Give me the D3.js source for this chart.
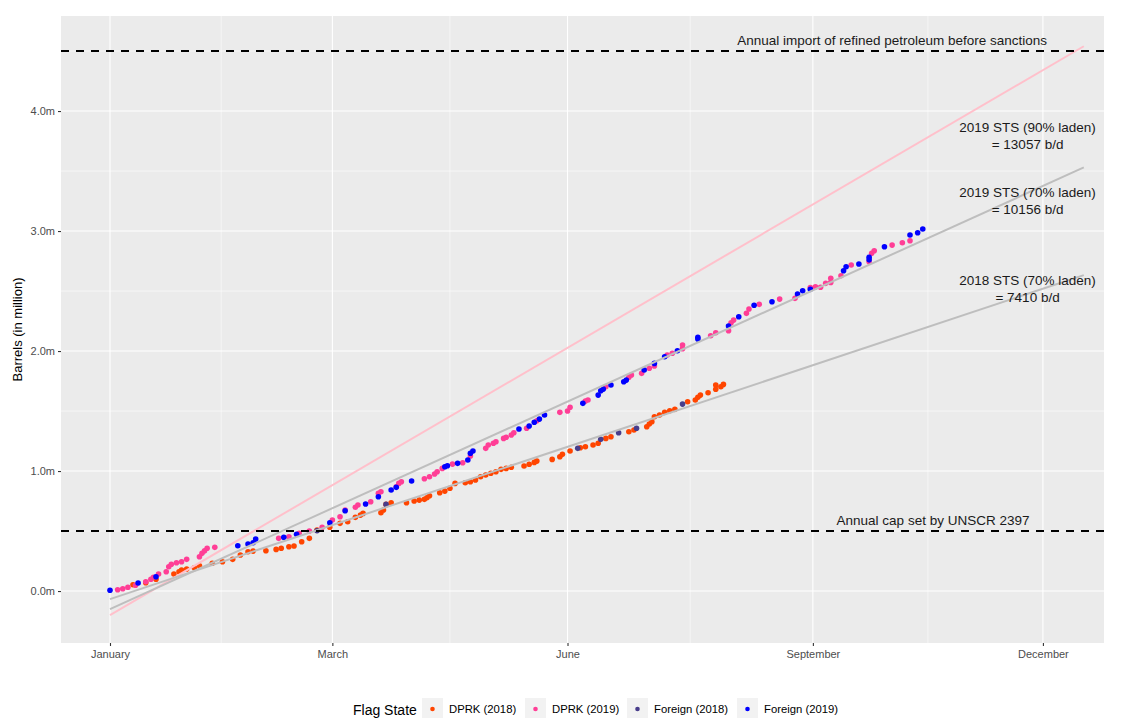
<!DOCTYPE html>
<html>
<head>
<meta charset="utf-8">
<script src="https://cdn.jsdelivr.net/npm/d3@7"></script>
<style>
  body { margin: 0; background: #fff; }
  svg { display: block; font-family: "Liberation Sans", Arial, sans-serif; }
</style>
</head>
<body>
<div id="chart"></div>
<script>
// cumulative barrels (million) by day of year
const dprk2018 = [
  [9,0.053],[14,0.069],[18,0.098],[25,0.142],[27,0.161],[28,0.175],[30,0.183],[33,0.194],[35,0.211],
  [40,0.231],[44,0.244],[48,0.264],[51,0.300],[54,0.328],[56,0.333],[61,0.336],[65,0.347],[67,0.356],
  [70,0.369],[72,0.375],[75,0.411],[78,0.439],[81,0.508],[86,0.531],[90,0.564],[93,0.578],[96,0.614],
  [98,0.633],[99,0.647],[106,0.653],[107,0.675],[108,0.722],[110,0.736],[116,0.736],[119,0.750],
  [121,0.758],[123,0.764],[124,0.778],[125,0.794],[129,0.819],[131,0.833],[133,0.856],[135,0.897],
  [139,0.903],[141,0.911],[143,0.925],[145,0.953],[147,0.967],[149,0.981],[151,0.994],[153,1.014],
  [155,1.022],[157,1.031],[162,1.042],[164,1.056],[166,1.072],[167,1.083],[173,1.097],[176,1.119],
  [177,1.139],[180,1.167],[184,1.194],[186,1.203],[189,1.217],[191,1.231],[194,1.272],[196,1.286],
  [203,1.328],[205,1.342],[210,1.369],[211,1.392],[212,1.411],[213,1.453],[215,1.467],[217,1.489],
  [219,1.503],[221,1.514],[226,1.578],[229,1.592],[230,1.614],[231,1.633],[234,1.653],[237,1.681],
  [237,1.717],[239,1.703],[240,1.722]
];
const dprk2019 = [
  [3,0.011],[5,0.019],[7,0.031],[10,0.048],[14,0.078],[16,0.098],[17,0.114],[19,0.142],[22,0.161],
  [23,0.203],[24,0.223],[26,0.236],[28,0.244],[30,0.264],[35,0.286],[36,0.314],[37,0.336],[38,0.356],
  [41,0.364],[66,0.439],[70,0.453],[74,0.481],[78,0.500],[83,0.531],[87,0.592],[90,0.619],[92,0.675],
  [96,0.698],[97,0.717],[102,0.744],[105,0.814],[106,0.828],[112,0.869],[113,0.897],[114,0.911],
  [123,0.936],[125,0.953],[127,0.975],[128,0.994],[130,1.022],[134,1.058],[138,1.069],[141,1.125],
  [147,1.189],[148,1.217],[150,1.231],[151,1.244],[154,1.272],[155,1.281],[157,1.300],[158,1.319],
  [163,1.356],[167,1.419],[176,1.489],[179,1.500],[180,1.531],[186,1.583],[187,1.592],[194,1.703],
  [203,1.781],[204,1.800],[208,1.814],[211,1.856],[213,1.875],[218,1.967],[220,1.981],[224,2.020],
  [224,2.050],[235,2.128],[237,2.153],[242,2.169],[243,2.236],[244,2.258],[249,2.314],[250,2.350],
  [254,2.389],[262,2.433],[268,2.439],[274,2.530],[276,2.536],[278,2.531],[280,2.564],[282,2.572],
  [282,2.606],[286,2.628],[290,2.717],[297,2.744],[298,2.814],[299,2.836],[306,2.883],[310,2.903],
  [313,2.919]
];
const foreign2018 = [
  [81,0.503],[108,0.722],[183,1.189],[192,1.264],[199,1.319],[206,1.356],[224,1.558]
];
const foreign2019 = [
  [0,0.006],[11,0.067],[18,0.119],[50,0.378],[54,0.392],[56,0.403],[57,0.433],[68,0.448],[73,0.473],
  [86,0.569],[92,0.669],[100,0.725],[105,0.786],[110,0.842],[112,0.864],[118,0.917],[131,1.036],
  [132,1.044],[136,1.064],[140,1.092],[141,1.148],[142,1.167],[160,1.350],[164,1.375],[166,1.406],
  [168,1.433],[170,1.467],[185,1.564],[191,1.633],[192,1.669],[193,1.683],[196,1.717],[201,1.744],
  [202,1.758],[209,1.842],[213,1.897],[217,1.953],[222,2.003],[230,2.100],[230,2.114],[242,2.208],
  [246,2.286],[252,2.381],[259,2.411],[269,2.475],[271,2.503],[274,2.514],[287,2.669],[288,2.703],
  [293,2.725],[297,2.760],[297,2.781],[303,2.869],[313,2.967],[316,2.986],[318,3.017]
];

const flagStates = ["DPRK (2018)", "DPRK (2019)", "Foreign (2018)", "Foreign (2019)"];
const flagSeries = [dprk2018, dprk2019, foreign2018, foreign2019];
const flagColors = ["#FF4500", "#FF3E96", "#483D8B", "#0000FF"];

// fitted trend lines: [day, million barrels] at start and end
const trendFits = [
  [[0, -0.20], [381, 4.54]],
  [[0, -0.15], [381, 3.53]],
  [[0, -0.067], [381, 2.633]]
];
const trendColors = ["#FFC0CB", "#BEBEBE", "#BEBEBE"];
const trendLabels = [
  ["2019 STS (90% laden)", "= 13057 b/d"],
  ["2019 STS (70% laden)", "= 10156 b/d"],
  ["2018 STS (70% laden)", "= 7410 b/d"]
];
const trendLabelAt = [[359, 3.80], [359, 3.254], [359, 2.525]];

const refLevels = [4.5, 0.5];
const refLabels = ["Annual import of refined petroleum before sanctions", "Annual cap set by UNSCR 2397"];
const refLabelAt = [[306, 4.583], [322, 0.583]];

const monthTickDays = [0, 87, 179, 275, 365];
const monthTickLabels = ["January", "March", "June", "September", "December"];
const valueTicks = [0, 1, 2, 3, 4];

const width = 1121;
const height = 718;
const panel = { left: 61, right: 1104, top: 16, bottom: 643 };

const svg = d3.select("#chart").append("svg")
  .attr("width", width)
  .attr("height", height);

svg.append("rect").attr("width", width).attr("height", height).attr("fill", "#fff");

const xScale = d3.scaleLinear()
  .domain([-19.17, 388.9])
  .range([panel.left, panel.right]);

const yScale = d3.scaleLinear()
  .domain([-0.433, 4.792])
  .range([panel.bottom, panel.top]);

// panel background
svg.append("rect")
  .attr("x", panel.left)
  .attr("y", panel.top)
  .attr("width", panel.right - panel.left)
  .attr("height", panel.bottom - panel.top)
  .attr("fill", "#EBEBEB");

// minor gridlines
const minorX = d3.pairs(monthTickDays).map(([a, b]) => (a + b) / 2);
const minorY = [0.5, 1.5, 2.5, 3.5, 4.5];
const grid = svg.append("g");
grid.selectAll(".minor-x").data(minorX).join("line")
  .attr("x1", d => xScale(d)).attr("x2", d => xScale(d))
  .attr("y1", panel.top).attr("y2", panel.bottom)
  .attr("stroke", "#fff").attr("stroke-width", 0.55);
grid.selectAll(".minor-y").data(minorY).join("line")
  .attr("y1", d => yScale(d)).attr("y2", d => yScale(d))
  .attr("x1", panel.left).attr("x2", panel.right)
  .attr("stroke", "#fff").attr("stroke-width", 0.55);
grid.selectAll(".major-x").data(monthTickDays).join("line")
  .attr("x1", d => xScale(d)).attr("x2", d => xScale(d))
  .attr("y1", panel.top).attr("y2", panel.bottom)
  .attr("stroke", "#fff").attr("stroke-width", 1.1);
grid.selectAll(".major-y").data(valueTicks).join("line")
  .attr("y1", d => yScale(d)).attr("y2", d => yScale(d))
  .attr("x1", panel.left).attr("x2", panel.right)
  .attr("stroke", "#fff").attr("stroke-width", 1.1);

// points
flagSeries.forEach((series, i) => {
  svg.append("g")
    .selectAll("circle")
    .data(series)
    .join("circle")
    .attr("cx", d => xScale(d[0]))
    .attr("cy", d => yScale(d[1]))
    .attr("r", 2.8)
    .attr("fill", flagColors[i]);
});

// trend lines
const line = d3.line().x(d => xScale(d[0])).y(d => yScale(d[1]));
svg.append("g")
  .selectAll("path")
  .data(trendFits)
  .join("path")
  .attr("d", line)
  .attr("fill", "none")
  .attr("stroke", (d, i) => trendColors[i])
  .attr("stroke-width", 2);

// reference lines
svg.append("g")
  .selectAll("line")
  .data(refLevels)
  .join("line")
  .attr("x1", panel.left).attr("x2", panel.right)
  .attr("y1", d => yScale(d)).attr("y2", d => yScale(d))
  .attr("stroke", "#000")
  .attr("stroke-width", 2)
  .attr("stroke-dasharray", "8,7");

svg.append("g")
  .selectAll("text")
  .data(refLabels)
  .join("text")
  .attr("x", (d, i) => xScale(refLabelAt[i][0]))
  .attr("y", (d, i) => yScale(refLabelAt[i][1]))
  .attr("text-anchor", "middle")
  .attr("dominant-baseline", "middle")
  .attr("font-size", 13.5)
  .attr("fill", "#1a1a1a")
  .text(d => d);

const rateText = svg.append("g")
  .selectAll("text")
  .data(trendLabels)
  .join("text")
  .attr("x", (d, i) => xScale(trendLabelAt[i][0]))
  .attr("y", (d, i) => yScale(trendLabelAt[i][1]))
  .attr("text-anchor", "middle")
  .attr("font-size", 13.5)
  .attr("fill", "#1a1a1a");
rateText.selectAll("tspan")
  .data(d => d)
  .join("tspan")
  .attr("x", function () { return this.parentNode.getAttribute("x"); })
  .attr("dy", (d, j) => j === 0 ? "-0.25em" : "1.25em")
  .text(d => d);

// axes
const xAxis = svg.append("g")
  .attr("transform", `translate(0,${panel.bottom})`)
  .call(d3.axisBottom(xScale)
    .tickValues(monthTickDays)
    .tickFormat((d, i) => monthTickLabels[i])
    .tickSize(3)
    .tickPadding(4));

const yAxis = svg.append("g")
  .attr("transform", `translate(${panel.left},0)`)
  .call(d3.axisLeft(yScale)
    .tickValues(valueTicks)
    .tickFormat(d => d3.format(".1f")(d) + "m")
    .tickSize(3)
    .tickPadding(3));

[xAxis, yAxis].forEach(ax => {
  ax.select(".domain").remove();
  ax.selectAll(".tick line").attr("stroke", "#333333").attr("stroke-width", 1.1);
  ax.selectAll(".tick text")
    .attr("fill", "#4D4D4D")
    .attr("font-size", 11)
    .attr("font-family", "Liberation Sans, Arial, sans-serif");
});

svg.append("text")
  .attr("transform", `translate(22,${(panel.top + panel.bottom) / 2}) rotate(-90)`)
  .attr("text-anchor", "middle")
  .attr("font-size", 13)
  .attr("fill", "#000")
  .text("Barrels (in million)");

// legend
const legend = svg.append("g").attr("transform", "translate(353,0)");
legend.append("text")
  .attr("x", 0)
  .attr("y", 715)
  .attr("font-size", 14)
  .attr("fill", "#000")
  .text("Flag State");

const keyX = [69, 172, 274, 384];
const items = legend.selectAll(".key")
  .data(flagStates)
  .join("g")
  .attr("transform", (d, i) => `translate(${keyX[i]},698)`);
items.append("rect")
  .attr("width", 21).attr("height", 21)
  .attr("fill", "#F2F2F2");
items.append("circle")
  .attr("cx", 10.5).attr("cy", 11)
  .attr("r", 2.3)
  .attr("fill", (d, i) => flagColors[i]);
items.append("text")
  .attr("x", 27)
  .attr("y", 15)
  .attr("font-size", 11.3)
  .attr("fill", "#000")
  .text(d => d);
</script>
</body>
</html>
